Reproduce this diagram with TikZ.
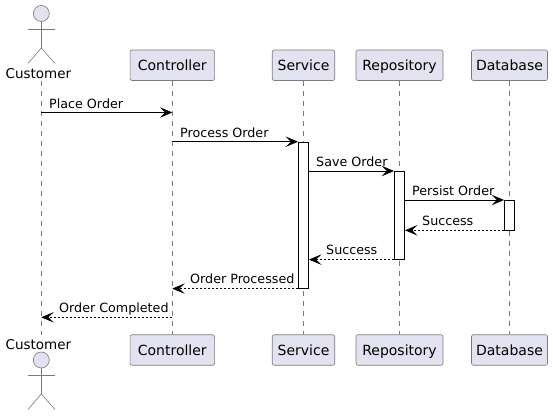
\documentclass[tikz,border=0pt]{standalone}
\usepackage{xcolor}
\usepackage{fontspec}
\setmainfont{DejaVu Sans}
\usetikzlibrary{arrows.meta}
\usetikzlibrary{backgrounds}
\definecolor{partfill}{HTML}{E2E2F0}
\definecolor{partline}{HTML}{7A7A7A}
\begin{document}
\begin{tikzpicture}[x=1pt,y=-1pt,
	font=\fontsize{12.7}{15}\selectfont
]
\tikzset{
    partbox/.style = {draw=partline, fill=partfill, rounded corners=2pt, line width=0.6pt, minimum height=30.5pt, inner sep=0pt, text height=10.8pt, text depth=0pt, font=\fontsize{14}{16}\selectfont},
		actorlabel/.style = {anchor=base, inner sep=0pt, font=\fontsize{13.5}{16}\selectfont},
		actorhead/.style = {circle, draw=partline, fill=partfill, line width=0.6pt, minimum size=16pt, inner sep=0pt},
		actorline/.style = {draw=partline, line width=0.6pt},
		lifeline/.style = {draw=partline, line width=0.5pt, dash pattern=on 5pt off 5pt},
		activebox/.style = {draw=black, fill=white, line width=0.6pt, minimum width=10.4pt, inner sep=0pt},
		msg/.style = {draw=black, line width=0.6pt, -{Stealth[length=12.5pt,width=10.5pt,inset=5.5pt]}},
		reply/.style = {msg, dash pattern=on 2pt off 2pt},
		msglabel/.style = {anchor=base west, inner sep=0pt}
}
\useasboundingbox (0,0) rectangle (553,415);
% participants, top and bottom
\node [actorlabel] (custT) at (38.4,78.6) {Customer};
\node [actorlabel] (custB) at (38.4,349) {Customer};
\node [partbox, minimum width=84.5pt] (ctrlT) at (172.3,65.25) {Controller};
\node [partbox, minimum width=84.5pt] (ctrlB) at (172.3,350) {Controller};
\node [partbox, minimum width=62.5pt] (servT) at (303.5,65.25) {Service};
\node [partbox, minimum width=62.5pt] (servB) at (303.5,350) {Service};
\node [partbox, minimum width=87pt] (repoT) at (399.5,65.25) {Repository};
\node [partbox, minimum width=87pt] (repoB) at (399.5,350) {Repository};
\node [partbox, minimum width=76pt] (dataT) at (509.5,65.25) {Database};
\node [partbox, minimum width=76pt] (dataB) at (509.5,350) {Database};
% actors
\node [actorhead] (headT) at (41.3,13.5) {};
\node [actorhead] (headB) at (41.3,360) {};
\foreach \h/\s/\a/\b/\l in {headT/T/29/48/63.5, headB/B/375/394/409.5}{
	\coordinate (hip\s) at (41.3,\b);
	\draw [actorline] (\h.south) -- (hip\s);
	\draw [actorline] (28,\a) -- (55,\a);
	\draw [actorline] (28,\l) -- (hip\s) -- (55,\l);
}
% lifelines
\coordinate (custA) at (41.3,81);
\coordinate (custZ) at (41.3,335);
\begin{scope}[on background layer]
\draw [lifeline] (custA) -- (custZ);
\draw [lifeline] (ctrlT) -- (ctrlB);
\draw [lifeline] (servT) -- (servB);
\draw [lifeline] (repoT) -- (repoB);
\draw [lifeline] (dataT) -- (dataB);
\end{scope}
% activations
\node [activebox, minimum height=146.3pt] (servA) at (303.5,215.15) {};
\node [activebox, minimum height=88pt] (repoA) at (399.5,215.3) {};
\node [activebox, minimum height=29.7pt] (dataA) at (509.5,215.15) {};
% messages
\coordinate (m1a) at (41.3,112.5);
\coordinate (m1b) at (172.3,112.5);
\coordinate (m2a) at (ctrlT |- servA.north);
\coordinate (m7b) at (ctrlT |- servA.south);
\coordinate (m8a) at (172.3,317.3);
\coordinate (m8b) at (41.3,317.3);
\draw [msg] (m1a) -- (m1b);
\draw [msg] (m2a) -- (servA.north west);
\draw [msg] (servA.east |- repoA.north) -- (repoA.north west);
\draw [msg] (repoA.east |- dataA.north) -- (dataA.north west);
\draw [reply] (dataA.south west) -- (repoA.east |- dataA.south);
\draw [reply] (repoA.south west) -- (servA.east |- repoA.south);
\draw [reply] (servA.south west) -- (m7b);
\draw [reply] (m8a) -- (m8b);
% labels
\node [msglabel] (l1) at (49,108) {Place Order};
\node [msglabel] (l2) at (180,137.5) {Process Order};
\node [msglabel] (l3) at (316,166.8) {Save Order};
\node [msglabel] (l4) at (412,195.8) {Persist Order};
\node [msglabel] (l5) at (422,225.3) {Success};
\node [msglabel] (l6) at (326,254.8) {Success};
\node [msglabel] (l7) at (190,283.8) {Order Processed};
\node [msglabel] (l8) at (59,312.8) {Order Completed};
\end{tikzpicture}
\end{document}
